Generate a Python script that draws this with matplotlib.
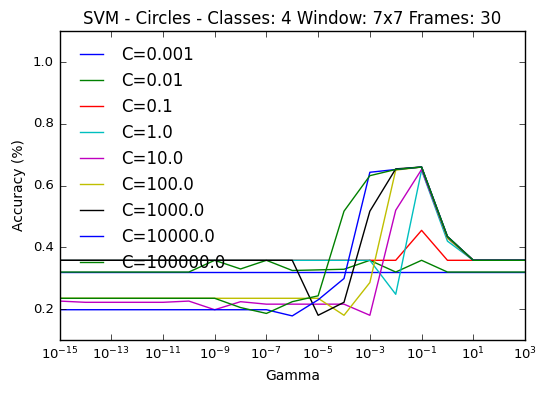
import matplotlib
matplotlib.use("Agg")
import matplotlib.pyplot as plt
import numpy as np

plt.style.use("classic")

# gamma values (x axis)
gammas = [1e-15, 1e-14, 1e-13, 1e-12, 1e-11, 1e-10, 1e-9, 1e-8, 1e-7, 1e-6,
          1e-5, 1e-4, 1e-3, 1e-2, 1e-1, 1e0, 1e1, 1e2, 1e3]

c_labels = ["C=0.001", "C=0.01", "C=0.1", "C=1.0", "C=10.0",
            "C=100.0", "C=1000.0", "C=10000.0", "C=100000.0"]

acc_c0001 = [0.32, 0.32, 0.32, 0.32, 0.32, 0.32, 0.32, 0.32, 0.32, 0.32,
             0.32, 0.32, 0.32, 0.32, 0.32, 0.32, 0.32, 0.32, 0.32]
acc_c001 = [0.32, 0.32, 0.32, 0.32, 0.32, 0.32, 0.358, 0.33, 0.358, 0.325,
            0.327, 0.329, 0.358, 0.32, 0.358, 0.32, 0.32, 0.32, 0.32]
acc_c01 = [0.358, 0.358, 0.358, 0.358, 0.358, 0.358, 0.358, 0.358, 0.358, 0.358,
           0.358, 0.358, 0.358, 0.358, 0.455, 0.358, 0.358, 0.358, 0.358]
acc_c1 = [0.358, 0.358, 0.358, 0.358, 0.358, 0.358, 0.358, 0.358, 0.358, 0.358,
          0.358, 0.358, 0.358, 0.248, 0.65, 0.42, 0.358, 0.358, 0.358]
acc_c10 = [0.226, 0.222, 0.222, 0.222, 0.222, 0.226, 0.198, 0.224, 0.216, 0.216,
           0.216, 0.216, 0.18, 0.52, 0.652, 0.43, 0.358, 0.358, 0.358]
acc_c100 = [0.235, 0.235, 0.235, 0.235, 0.235, 0.235, 0.235, 0.235, 0.235, 0.235,
            0.235, 0.18, 0.286, 0.65, 0.66, 0.43, 0.358, 0.358, 0.358]
acc_c1000 = [0.358, 0.358, 0.358, 0.358, 0.358, 0.358, 0.358, 0.358, 0.358, 0.358,
             0.18, 0.222, 0.517, 0.654, 0.66, 0.435, 0.358, 0.358, 0.358]
acc_c10000 = [0.198, 0.198, 0.198, 0.198, 0.198, 0.198, 0.198, 0.198, 0.198, 0.178,
              0.23, 0.299, 0.643, 0.652, 0.66, 0.435, 0.358, 0.358, 0.358]
acc_c100000 = [0.235, 0.235, 0.235, 0.235, 0.235, 0.235, 0.235, 0.205, 0.186, 0.224,
               0.243, 0.517, 0.632, 0.652, 0.66, 0.435, 0.358, 0.358, 0.358]

series = [acc_c0001, acc_c001, acc_c01, acc_c1, acc_c10,
          acc_c100, acc_c1000, acc_c10000, acc_c100000]
colors = ["b", "g", "r", "c", "m", "y", "k", "b", "g"]

fig = plt.figure(figsize=(5.46, 3.97), dpi=100, facecolor="white")
ax = fig.add_axes([0.109, 0.1436, 0.8526, 0.778])

for acc, col, lab in zip(series, colors, c_labels):
    ax.plot(gammas, acc, color=col, linewidth=1.0, label=lab)

ax.set_xscale("log")
ax.set_xlim(1e-15, 1e3)
ax.set_ylim(0.1, 1.1)
ax.set_xticks([10.0 ** k for k in range(-15, 4, 2)])
ax.minorticks_off()
ax.set_yticks([0.2, 0.4, 0.6, 0.8, 1.0])
ax.tick_params(labelsize=9.5)

ax.set_title("SVM - Circles - Classes: 4 Window: 7x7 Frames: 30", fontsize=12)
ax.set_xlabel("Gamma", fontsize=10)
ax.set_ylabel("Accuracy (%)", fontsize=10)

ax.legend(loc="upper left", frameon=False, fontsize=12,
          handlelength=2.0, handletextpad=0.8, labelspacing=0.48,
          borderaxespad=0.5)

fig.savefig("out.png", dpi=100, facecolor="white")
